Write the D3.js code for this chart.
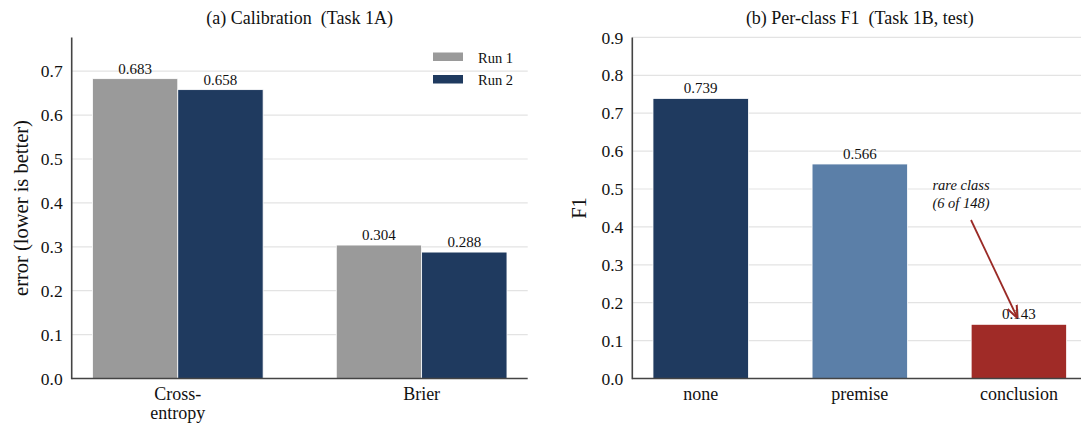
<!DOCTYPE html>
<html>
<head>
<meta charset="utf-8">
<script src="https://cdn.jsdelivr.net/npm/d3@7"></script>
<style>
  body { margin: 0; background: #fff; }
  text { font-family: "Liberation Serif", "Times New Roman", serif; fill: #111; }
</style>
</head>
<body>
<svg id="chart" width="1081" height="425"></svg>
<script>
// panel (a) data
var calibMetrics = ["Cross-\nentropy", "Brier"];
var runNames = ["Run 1", "Run 2"];
var run1 = [0.683, 0.304];
var run2 = [0.658, 0.288];
var calibTicks = [0, 0.1, 0.2, 0.3, 0.4, 0.5, 0.6, 0.7];

// panel (b) data
var classes = ["none", "premise", "conclusion"];
var f1 = [0.739, 0.566, 0.143];
var f1Ticks = [0, 0.1, 0.2, 0.3, 0.4, 0.5, 0.6, 0.7, 0.8, 0.9];

var runColors = ["#9a9a9a", "#1f3a5f"];
var classColors = ["#1f3a5f", "#5b7fa8", "#a02b27"];
var axisColor = "#444";
var gridColor = "#e3e3e3";
var yBottom = 378.5, yTop = 37.4;

var svg = d3.select("#chart");

function panel (opts) {
    var g = svg.append("g");
    var y = d3.scaleLinear().domain(opts.yDomain).range([yBottom, yTop]);
    var x = d3.scaleLinear().domain(opts.xDomain).range([opts.left, opts.right]);

    // gridlines
    g.selectAll("line.grid")
        .data(opts.ticks.filter(function(d){ return d > 0; }))
        .enter().append("line")
        .attr("class", "grid")
        .attr("x1", opts.left).attr("x2", opts.gridRight)
        .attr("y1", function(d){ return y(d); })
        .attr("y2", function(d){ return y(d); })
        .attr("stroke", gridColor).attr("stroke-width", 1.2);

    var yAxis = d3.axisLeft(y)
        .tickValues(opts.ticks)
        .tickFormat(d3.format(".1f"))
        .tickSize(0)
        .tickPadding(9);
    var ya = g.append("g")
        .attr("transform", "translate(" + opts.left + ",0)")
        .call(yAxis);
    ya.select(".domain").remove();
    ya.selectAll("text").style("font-size", "17.5px")
        .style("font-family", "Liberation Serif, serif").attr("fill", "#111");

    return {g: g, x: x, y: y};
}

function spines (g, left, right) {
    g.append("line").attr("x1", left).attr("x2", left)
        .attr("y1", yTop).attr("y2", yBottom + 0.8)
        .attr("stroke", axisColor).attr("stroke-width", 1.6);
    g.append("line").attr("x1", left).attr("x2", right)
        .attr("y1", yBottom).attr("y2", yBottom)
        .attr("stroke", axisColor).attr("stroke-width", 1.6);
}

// ---------- panel (a) ----------
var a = panel({left: 71.7, right: 527.7, gridRight: 527.7,
               xDomain: [-0.435, 1.435], yDomain: [0, 0.777], ticks: calibTicks});
var barW = 0.35;
var seriesA = [run1, run2];
seriesA.forEach(function(vals, s) {
    var off = (s - 0.5) * barW;
    a.g.selectAll("rect.r" + s)
        .data(vals)
        .enter().append("rect")
        .attr("class", "r" + s)
        .attr("x", function(d, i){ return a.x(i + off - barW / 2); })
        .attr("width", a.x(barW) - a.x(0))
        .attr("y", function(d){ return a.y(d); })
        .attr("height", function(d){ return a.y(0) - a.y(d); })
        .attr("fill", runColors[s])
        .attr("stroke", "#fff").attr("stroke-width", 0.8);
    a.g.selectAll("text.v" + s)
        .data(vals)
        .enter().append("text")
        .attr("class", "v" + s)
        .attr("x", function(d, i){ return a.x(i + off); })
        .attr("y", function(d){ return a.y(d) - 5; })
        .attr("text-anchor", "middle")
        .style("font-size", "15px")
        .text(function(d){ return d.toFixed(3); });
});
spines(a.g, 71.7, 527.7);

calibMetrics.forEach(function(m, i) {
    var t = a.g.append("text")
        .attr("x", a.x(i)).attr("y", 400)
        .attr("text-anchor", "middle")
        .style("font-size", "18px");
    m.split("\n").forEach(function(line, k) {
        t.append("tspan").attr("x", a.x(i)).attr("dy", k ? 19 : 0).text(line);
    });
});

a.g.append("text")
    .attr("transform", "translate(28,208) rotate(-90)")
    .attr("text-anchor", "middle")
    .style("font-size", "20.5px")
    .text("error (lower is better)");

a.g.append("text")
    .attr("x", 299.7).attr("y", 24)
    .attr("text-anchor", "middle")
    .style("font-size", "18px")
    .text("(a) Calibration\u00a0 (Task 1A)");

// legend
runNames.forEach(function(n, i) {
    a.g.append("rect")
        .attr("x", 433).attr("y", 52.5 + i * 22.5)
        .attr("width", 30).attr("height", 8.5)
        .attr("fill", runColors[i]);
    a.g.append("text")
        .attr("x", 478).attr("y", 62.5 + i * 22.5)
        .style("font-size", "14.5px")
        .text(n);
});

// ---------- panel (b) ----------
var b = panel({left: 632.3, right: 1087.3, gridRight: 1081,
               xDomain: [-0.43, 2.43], yDomain: [0, 0.9], ticks: f1Ticks});
var bw = 0.6;
b.g.selectAll("rect.cls")
    .data(f1)
    .enter().append("rect")
    .attr("class", "cls")
    .attr("x", function(d, i){ return b.x(i - bw / 2); })
    .attr("width", b.x(bw) - b.x(0))
    .attr("y", function(d){ return b.y(d); })
    .attr("height", function(d){ return b.y(0) - b.y(d); })
    .attr("fill", function(d, i){ return classColors[i]; })
    .attr("stroke", "#fff").attr("stroke-width", 0.8);
b.g.selectAll("text.cv")
    .data(f1)
    .enter().append("text")
    .attr("class", "cv")
    .attr("x", function(d, i){ return b.x(i); })
    .attr("y", function(d){ return b.y(d) - 5; })
    .attr("text-anchor", "middle")
    .style("font-size", "15px")
    .text(function(d){ return d.toFixed(3); });
spines(b.g, 632.3, 1081);

b.g.selectAll("text.cls")
    .data(classes)
    .enter().append("text")
    .attr("class", "cls")
    .attr("x", function(d, i){ return b.x(i); })
    .attr("y", 400)
    .attr("text-anchor", "middle")
    .style("font-size", "18px")
    .text(function(d){ return d; });

b.g.append("text")
    .attr("transform", "translate(586,208) rotate(-90)")
    .attr("text-anchor", "middle")
    .style("font-size", "20.5px")
    .text("F1");

b.g.append("text")
    .attr("x", 859.8).attr("y", 24)
    .attr("text-anchor", "middle")
    .style("font-size", "18px")
    .text("(b) Per-class F1\u00a0 (Task 1B, test)");

// annotation
var annColor = "#b03c3c";
var defs = svg.append("defs");
defs.append("marker")
    .attr("id", "arrow")
    .attr("viewBox", "0 0 10 10")
    .attr("refX", 9).attr("refY", 5)
    .attr("markerWidth", 7).attr("markerHeight", 7)
    .attr("orient", "auto")
    .append("path")
    .attr("d", "M0,1 L10,5 L0,9")
    .attr("fill", "none")
    .attr("stroke", "#9a2a26").attr("stroke-width", 1.6);

var ann = b.g.append("text")
    .attr("x", 961).attr("y", 190)
    .attr("text-anchor", "middle")
    .style("font-size", "14.5px")
    .style("font-style", "italic")
    .attr("fill", annColor);
ann.append("tspan").attr("x", 961).attr("dy", 0).text("rare class");
ann.append("tspan").attr("x", 961).attr("dy", 17.5).text("(6 of 148)");

b.g.append("line")
    .attr("x1", 971).attr("y1", 220)
    .attr("x2", 1017).attr("y2", 317)
    .attr("stroke", "#9a2a26").attr("stroke-width", 1.8)
    .attr("marker-end", "url(#arrow)");
</script>
</body>
</html>
